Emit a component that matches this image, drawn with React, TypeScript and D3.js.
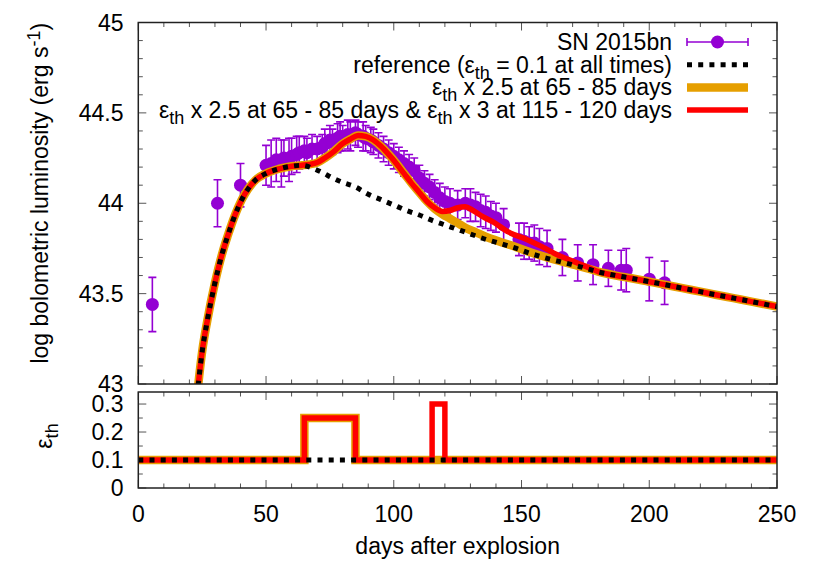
import React from 'react';
import * as d3 from 'd3';

// ---------- data ----------
const obsDays = [5.5, 31, 40, 50, 52, 54, 56, 57, 59, 60, 62, 63, 65, 66, 68, 70, 72, 73, 75, 76, 78, 79, 80, 82, 83, 85, 86, 88, 89, 91, 92, 94, 96, 98, 100, 102, 104, 106, 108, 110, 112, 114, 116, 118, 120, 122, 125, 128, 130, 132, 134, 136, 138, 140, 143, 149, 151, 153, 155, 157, 160, 166, 172, 178, 184, 189, 191, 200, 206];
const obsLum = [43.44, 44.0, 44.1, 44.21, 44.22, 44.24, 44.22, 44.25, 44.24, 44.26, 44.27, 44.28, 44.29, 44.28, 44.3, 44.3, 44.31, 44.33, 44.35, 44.34, 44.36, 44.37, 44.36, 44.38, 44.37, 44.39, 44.38, 44.37, 44.36, 44.35, 44.34, 44.32, 44.3, 44.28, 44.26, 44.24, 44.22, 44.2, 44.18, 44.14, 44.11, 44.09, 44.06, 44.03, 44.01, 44.0, 43.99, 44.0, 43.99, 43.98, 43.96, 43.95, 43.93, 43.92, 43.88, 43.8, 43.79, 43.78, 43.78, 43.76, 43.75, 43.7, 43.67, 43.66, 43.64, 43.63, 43.63, 43.58, 43.56];
const obsErr = [0.15, 0.13, 0.12, 0.11, 0.13, 0.12, 0.13, 0.1, 0.12, 0.1, 0.1, 0.09, 0.08, 0.08, 0.08, 0.07, 0.07, 0.08, 0.08, 0.07, 0.08, 0.08, 0.07, 0.08, 0.08, 0.07, 0.07, 0.08, 0.07, 0.07, 0.07, 0.07, 0.07, 0.07, 0.07, 0.07, 0.07, 0.07, 0.07, 0.07, 0.07, 0.07, 0.07, 0.08, 0.08, 0.08, 0.08, 0.08, 0.09, 0.08, 0.09, 0.09, 0.08, 0.08, 0.09, 0.09, 0.1, 0.09, 0.1, 0.1, 0.1, 0.1, 0.1, 0.11, 0.1, 0.11, 0.12, 0.12, 0.12];

const refDays = [21, 23.5, 25, 27, 30, 33, 35, 38, 40.5, 43, 46, 50, 55, 60, 64, 68, 72, 76, 80, 85, 90, 95, 100, 105, 110, 115, 120, 125, 130, 135, 141, 148, 154, 160, 167, 174, 180, 187, 193, 200, 206, 213, 220, 226, 233, 240, 250];
const refLum = [42.62, 43.0, 43.18, 43.35, 43.56, 43.73, 43.82, 43.94, 44.02, 44.08, 44.13, 44.165, 44.19, 44.205, 44.21, 44.195, 44.17, 44.14, 44.115, 44.09, 44.05, 44.02, 43.99, 43.96, 43.935, 43.905, 43.88, 43.855, 43.83, 43.805, 43.78, 43.75, 43.72, 43.695, 43.67, 43.645, 43.62, 43.6, 43.585, 43.566, 43.55, 43.53, 43.511, 43.494, 43.475, 43.456, 43.428];

const heat1Days = [21, 23.5, 25, 27, 30, 33, 35, 38, 40.5, 43, 46, 50, 55, 60, 64, 67, 70, 73, 76, 80, 83, 86, 89, 92, 95, 98, 101, 104, 107, 110, 113, 116, 119, 122, 125, 128, 132, 136, 141, 148, 154, 160, 167, 174, 180, 187, 193, 200, 206, 213, 220, 226, 233, 240, 250];
const heat1Lum = [42.62, 43.0, 43.18, 43.35, 43.56, 43.73, 43.82, 43.94, 44.02, 44.08, 44.13, 44.165, 44.19, 44.205, 44.21, 44.215, 44.225, 44.25, 44.28, 44.33, 44.355, 44.375, 44.37, 44.35, 44.315, 44.27, 44.22, 44.165, 44.11, 44.06, 44.01, 43.97, 43.94, 43.915, 43.89, 43.865, 43.84, 43.815, 43.79, 43.757, 43.726, 43.7, 43.673, 43.647, 43.622, 43.6, 43.585, 43.566, 43.55, 43.53, 43.511, 43.494, 43.475, 43.456, 43.428];

const heat2Days = [21, 23.5, 25, 27, 30, 33, 35, 38, 40.5, 43, 46, 50, 55, 60, 64, 67, 70, 73, 76, 80, 83, 86, 89, 92, 95, 98, 101, 104, 107, 110, 113, 116, 119, 122, 125, 128, 131, 135, 139, 145, 152, 158, 164, 170, 176, 180, 187, 193, 200, 206, 213, 220, 226, 233, 240, 250];
const heat2Lum = [42.62, 43.0, 43.18, 43.35, 43.56, 43.73, 43.82, 43.94, 44.02, 44.08, 44.13, 44.165, 44.19, 44.205, 44.21, 44.215, 44.225, 44.25, 44.28, 44.33, 44.355, 44.375, 44.37, 44.35, 44.315, 44.27, 44.22, 44.165, 44.11, 44.06, 44.01, 43.975, 43.955, 43.96, 43.975, 43.98, 43.96, 43.925, 43.895, 43.84, 43.8, 43.76, 43.715, 43.68, 43.645, 43.622, 43.6, 43.585, 43.566, 43.55, 43.53, 43.511, 43.494, 43.475, 43.456, 43.428];

const epsRefDays = [0, 250];
const epsRefVals = [0.1, 0.1];
const epsHeat1Days = [0, 65, 85, 250];
const epsHeat1Vals = [0.1, 0.25, 0.1, 0.1];
const epsHeat2Days = [0, 65, 85, 115, 120, 250];
const epsHeat2Vals = [0.1, 0.25, 0.1, 0.3, 0.1, 0.1];

const xTickVals = [0, 50, 100, 150, 200, 250];
const yTopTickVals = [43, 43.5, 44, 44.5, 45];
const yTopTickLabels = ['43', '43.5', '44', '44.5', '45'];
const yBotTickVals = [0, 0.1, 0.2, 0.3];
const yBotTickLabels = ['0', '0.1', '0.2', '0.3'];

// ---------- layout ----------
const W = 830, H = 581;
const L = 138.3, R = 777;
const T1 = 22.5, B1 = 384;
const T2 = 392, B2 = 488;
const FONT = "'Liberation Sans', Arial, Helvetica, sans-serif";
const FS = 23;
const SUB = 18;
const C_DATA = '#9400D3';
const C_ORANGE = '#E69F00';
const C_RED = '#FF0000';

const x = d3.scaleLinear().domain([0, 250]).range([L, R]);
const y1 = d3.scaleLinear().domain([43, 45]).range([B1, T1]);
const y2 = d3.scaleLinear().domain([0, 0.343]).range([B2, T2]);

const zip = (a: number[], b: number[]) => a.map((d, i) => [d, b[i]] as [number, number]);

const lineTop = d3.line<[number, number]>().x(d => x(d[0])).y(d => y1(d[1])).curve(d3.curveMonotoneX);
const lineBot = d3.line<[number, number]>().x(d => x(d[0])).y(d => y2(d[1])).curve(d3.curveStepAfter);

const BLACK_DASH = '5 6.2';

function Ticks({ top, bottom, yScale, majorY, minorY }: any) {
  const els: any[] = [];
  const maj = 8, min = 4.5;
  const xMinor = d3.range(0, 251, 10);
  xMinor.forEach(v => {
    const len = v % 50 === 0 ? maj : min;
    const px = x(v);
    els.push(<line key={'xb' + v} x1={px} x2={px} y1={bottom} y2={bottom - len} />);
    els.push(<line key={'xt' + v} x1={px} x2={px} y1={top} y2={top + len} />);
  });
  minorY.forEach((v: number, i: number) => {
    const isMaj = majorY.some((m: number) => Math.abs(m - v) < 1e-6);
    const len = isMaj ? maj : min;
    const py = yScale(v);
    els.push(<line key={'yl' + i} x1={L} x2={L + len} y1={py} y2={py} />);
    els.push(<line key={'yr' + i} x1={R} x2={R - len} y1={py} y2={py} />);
  });
  return <g stroke="#555" strokeWidth={1}>{els}</g>;
}

export default function App() {
  const topMinor = d3.range(0, 21).map(i => 43 + i * 0.1);
  const botMinor = d3.range(0, 7).map(i => i * 0.05);
  const legX1 = 687, legX2 = 748, legTextX = 672;
  const rowBase = [50, 72.7, 95.4, 118];
  const sub = (key: string) => (
    <tspan key={key} dy={6} fontSize={SUB}>th</tspan>
  );

  return (
    <svg width={W} height={H} style={{ position: 'absolute', left: 0, top: 0, background: '#fff' }} fontFamily={FONT} fontSize={FS}>
      <rect x={0} y={0} width={W} height={H} fill="#fff" />
      <defs>
        <clipPath id="clipTop"><rect x={L} y={T1} width={R - L} height={B1 - T1} /></clipPath>
        <clipPath id="clipBot"><rect x={L - 2} y={T2} width={R - L + 4} height={B2 - T2} /></clipPath>
      </defs>

      {/* ---------- top panel ---------- */}
      <Ticks top={T1} bottom={B1} yScale={y1} majorY={yTopTickVals} minorY={topMinor} />

      <g clipPath="url(#clipTop)">
        <g stroke={C_DATA} strokeWidth={1.6}>
          {obsDays.map((d, i) => {
            const px = x(d), lo = y1(obsLum[i] - obsErr[i]), hi = y1(obsLum[i] + obsErr[i]);
            return (
              <g key={'e' + i}>
                <line x1={px} x2={px} y1={lo} y2={hi} />
                <line x1={px - 4} x2={px + 4} y1={lo} y2={lo} />
                <line x1={px - 4} x2={px + 4} y1={hi} y2={hi} />
              </g>
            );
          })}
        </g>
        <g fill={C_DATA}>
          {obsDays.map((d, i) => <circle key={'c' + i} cx={x(d)} cy={y1(obsLum[i])} r={6.5} />)}
        </g>
        <path d={lineTop(zip(heat1Days, heat1Lum)) || ''} fill="none" stroke={C_ORANGE} strokeWidth={8.5} />
        <path d={lineTop(zip(heat2Days, heat2Lum)) || ''} fill="none" stroke={C_RED} strokeWidth={5.5} />
        <path d={lineTop(zip(refDays, refLum)) || ''} fill="none" stroke="#000" strokeWidth={5} strokeDasharray={BLACK_DASH} />
      </g>
      <rect x={L} y={T1} width={R - L} height={B1 - T1} fill="none" stroke="#222" strokeWidth={1.5} />

      <g textAnchor="end" fill="#000">
        {yTopTickVals.map((v, i) => (
          <text key={'yt' + i} x={123.5} y={y1(v) + 8}>{yTopTickLabels[i]}</text>
        ))}
      </g>

      {/* legend */}
      <g textAnchor="end" fill="#000">
        <text x={legTextX} y={rowBase[0]}>SN 2015bn</text>
        <text x={legTextX} y={rowBase[1]}>
          <tspan>reference (ε</tspan>{sub('r')}<tspan dy={-6}> = 0.1 at all times)</tspan>
        </text>
        <text x={legTextX} y={rowBase[2]}>
          <tspan>ε</tspan>{sub('o')}<tspan dy={-6}> x 2.5 at 65 - 85 days</tspan>
        </text>
        <text x={legTextX} y={rowBase[3]}>
          <tspan>ε</tspan>{sub('r1')}<tspan dy={-6}> x 2.5 at 65 - 85 days &amp; ε</tspan>{sub('r2')}<tspan dy={-6}> x 3 at 115 - 120 days</tspan>
        </text>
      </g>
      <g>
        <g stroke={C_DATA} strokeWidth={1.6}>
          <line x1={legX1} x2={legX2} y1={rowBase[0] - 8} y2={rowBase[0] - 8} />
          <line x1={legX1} x2={legX1} y1={rowBase[0] - 12} y2={rowBase[0] - 4} />
          <line x1={legX2} x2={legX2} y1={rowBase[0] - 12} y2={rowBase[0] - 4} />
        </g>
        <circle cx={(legX1 + legX2) / 2} cy={rowBase[0] - 8} r={6.5} fill={C_DATA} />
        <line x1={legX1} x2={legX2} y1={rowBase[1] - 8} y2={rowBase[1] - 8} stroke="#000" strokeWidth={5} strokeDasharray={BLACK_DASH} />
        <line x1={legX1} x2={legX2} y1={rowBase[2] - 8} y2={rowBase[2] - 8} stroke={C_ORANGE} strokeWidth={8.5} />
        <line x1={legX1} x2={legX2} y1={rowBase[3] - 8} y2={rowBase[3] - 8} stroke={C_RED} strokeWidth={5.5} />
      </g>

      <text transform={`translate(48,${(T1 + B1) / 2 - 10}) rotate(-90)`} textAnchor="middle" fill="#000">
        <tspan>log bolometric luminosity (erg s</tspan>
        <tspan dy={-8} fontSize={SUB}>-1</tspan>
        <tspan dy={8}>)</tspan>
      </text>

      {/* ---------- bottom panel ---------- */}
      <Ticks top={T2} bottom={B2} yScale={y2} majorY={yBotTickVals} minorY={botMinor} />
      <g clipPath="url(#clipBot)">
        <path d={lineBot(zip(epsHeat1Days, epsHeat1Vals)) || ''} fill="none" stroke={C_ORANGE} strokeWidth={8.5} />
        <path d={lineBot(zip(epsHeat2Days, epsHeat2Vals)) || ''} fill="none" stroke={C_RED} strokeWidth={5.5} />
        <path d={lineBot(zip(epsRefDays, epsRefVals)) || ''} fill="none" stroke="#000" strokeWidth={5} strokeDasharray={BLACK_DASH} />
      </g>
      <rect x={L} y={T2} width={R - L} height={B2 - T2} fill="none" stroke="#222" strokeWidth={1.5} />

      <g textAnchor="end" fill="#000">
        {yBotTickVals.map((v, i) => (
          <text key={'yb' + i} x={123.5} y={y2(v) + 8}>{yBotTickLabels[i]}</text>
        ))}
      </g>
      <g textAnchor="middle" fill="#000">
        {xTickVals.map(v => (
          <text key={'xl' + v} x={x(v)} y={522}>{v}</text>
        ))}
      </g>
      <text x={(L + R) / 2} y={554} textAnchor="middle" fill="#000">days after explosion</text>

      <text transform={`translate(52,${(T2 + B2) / 2 - 4}) rotate(-90)`} textAnchor="middle" fill="#000">
        <tspan>ε</tspan>
        <tspan dy={6} fontSize={SUB}>th</tspan>
      </text>
    </svg>
  );
}
